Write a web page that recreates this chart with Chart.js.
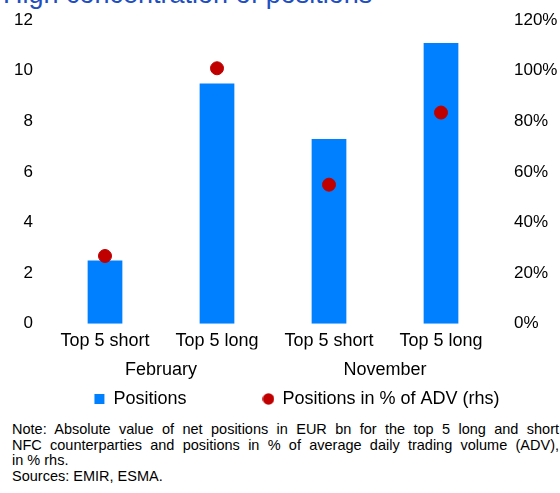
<!DOCTYPE html>
<html>
<head>
<meta charset="utf-8">
<script src="https://cdn.jsdelivr.net/npm/chart.js@4"></script>
<style>
  body { margin: 0; width: 560px; height: 493px; overflow: hidden; background: #fff; position: relative; font-family: "Liberation Sans", Arial, sans-serif; }
  #title { position: absolute; left: 3px; top: -19px; font-size: 27px; line-height: 1; color: #1f4fbf; white-space: nowrap; }
  #wrap { position: absolute; left: 0; top: 0; width: 560px; height: 418px; }
  #note { position: absolute; left: 12px; top: 422px; width: 547px; font-size: 14.5px; line-height: 15.6px; color: #000; }
  #note .j { text-align: justify; text-align-last: justify; white-space: nowrap; }
</style>
</head>
<body>
<div id="title">High concentration of positions</div>
<div id="wrap"><canvas id="chart"></canvas></div>
<div id="note">
  <div class="j">Note: Absolute value of net positions in EUR bn for the top 5 long and short</div>
  <div class="j">NFC counterparties and positions in % of average daily trading volume (ADV),</div>
  <div>in % rhs.</div>
  <div>Sources: EMIR, ESMA.</div>
</div>
<script>
// categories and values
const categories = ["Top 5 short", "Top 5 long", "Top 5 short", "Top 5 long"];
const months = ["February", "November"];
const positions = [2.5, 9.5, 7.3, 11.1];        // EUR bn, lhs
const pctOfADV = [26.8, 101, 55, 83.5];         // %, rhs

const leftTicks = [0, 2, 4, 6, 8, 10, 12];
const rightTicks = [0, 20, 40, 60, 80, 100, 120];

const FAMILY = "'Liberation Sans', Arial, sans-serif";
const tickFont = { family: FAMILY, size: 17 };
const labelFont = { family: FAMILY, size: 18 };

// small red dot used as the legend marker of the rhs series
const dot = document.createElement("canvas");
dot.width = 12; dot.height = 12;
const dctx = dot.getContext("2d");
dctx.fillStyle = "#c00000";
dctx.beginPath();
dctx.arc(6, 6, 5.8, 0, Math.PI * 2);
dctx.fill();

// the legend in the original sits a bit right of centre
const legendShift = {
  id: "legendShift",
  afterLayout(chart) {
    chart.legend.left += 17;
    chart.legend.right += 17;
  }
};

const ctx = document.getElementById("chart").getContext("2d");

new Chart(ctx, {
  type: "bar",
  data: {
    labels: categories,
    datasets: [
      {
        label: "Positions",
        data: positions,
        backgroundColor: "#0080ff",
        barPercentage: 0.31,
        categoryPercentage: 1,
        pointStyle: "rect",
        yAxisID: "y",
        order: 2
      },
      {
        type: "line",
        label: "Positions in % of ADV (rhs)",
        data: pctOfADV,
        showLine: false,
        pointStyle: "circle",
        pointRadius: 6.5,
        pointBackgroundColor: "#c00000",
        pointBorderColor: "#c00000",
        backgroundColor: "#c00000",
        borderColor: "#c00000",
        yAxisID: "y1",
        order: 1
      }
    ]
  },
  plugins: [legendShift],
  options: {
    responsive: true,
    maintainAspectRatio: false,
    animation: false,
    layout: { padding: 0 },
    plugins: {
      tooltip: { enabled: false },
      legend: {
        position: "bottom",
        labels: {
          usePointStyle: true,
          boxWidth: 10,
          boxHeight: 10,
          padding: 7,
          color: "#000",
          font: labelFont,
          sort: (a, b) => a.datasetIndex - b.datasetIndex,
          generateLabels: chart => {
            const items = Chart.defaults.plugins.legend.labels.generateLabels(chart);
            items.forEach(it => {
              if (it.datasetIndex === 0) it.text += " ".repeat(14);
              if (it.datasetIndex === 1) it.pointStyle = dot;
            });
            return items;
          }
        }
      }
    },
    scales: {
      x: {
        type: "category",
        weight: 0,
        grid: { display: false },
        border: { display: false },
        ticks: { color: "#000", font: labelFont, padding: -2, maxRotation: 0 }
      },
      x2: {
        type: "linear",
        position: "bottom",
        weight: 1,
        offset: false,
        min: 0,
        max: categories.length,
        grid: { display: false, offset: false },
        border: { display: false },
        afterBuildTicks: axis => {
          axis.ticks = months.map((m, i) => ({ value: 1 + i * 2 }));
        },
        ticks: {
          color: "#000",
          font: labelFont,
          padding: 2,
          callback: v => months[(v - 1) / 2]
        }
      },
      // tick padding also pads the top of the plot, so most of the gap is tickLength
      y: {
        position: "left",
        min: 0,
        max: 12,
        grid: { display: false, drawTicks: true, tickLength: 6 },
        border: { display: false },
        afterBuildTicks: axis => { axis.ticks = leftTicks.map(v => ({ value: v })); },
        afterFit: axis => { axis.width = 49; },
        ticks: { color: "#000", font: tickFont, padding: 10 }
      },
      y1: {
        position: "right",
        min: 0,
        max: 120,
        grid: { display: false, drawTicks: true, tickLength: 7 },
        border: { display: false },
        afterBuildTicks: axis => { axis.ticks = rightTicks.map(v => ({ value: v })); },
        afterFit: axis => { axis.width = 63; },
        ticks: {
          color: "#000",
          font: tickFont,
          padding: 10,
          callback: v => v + "%"
        }
      }
    }
  }
});
</script>
</body>
</html>
